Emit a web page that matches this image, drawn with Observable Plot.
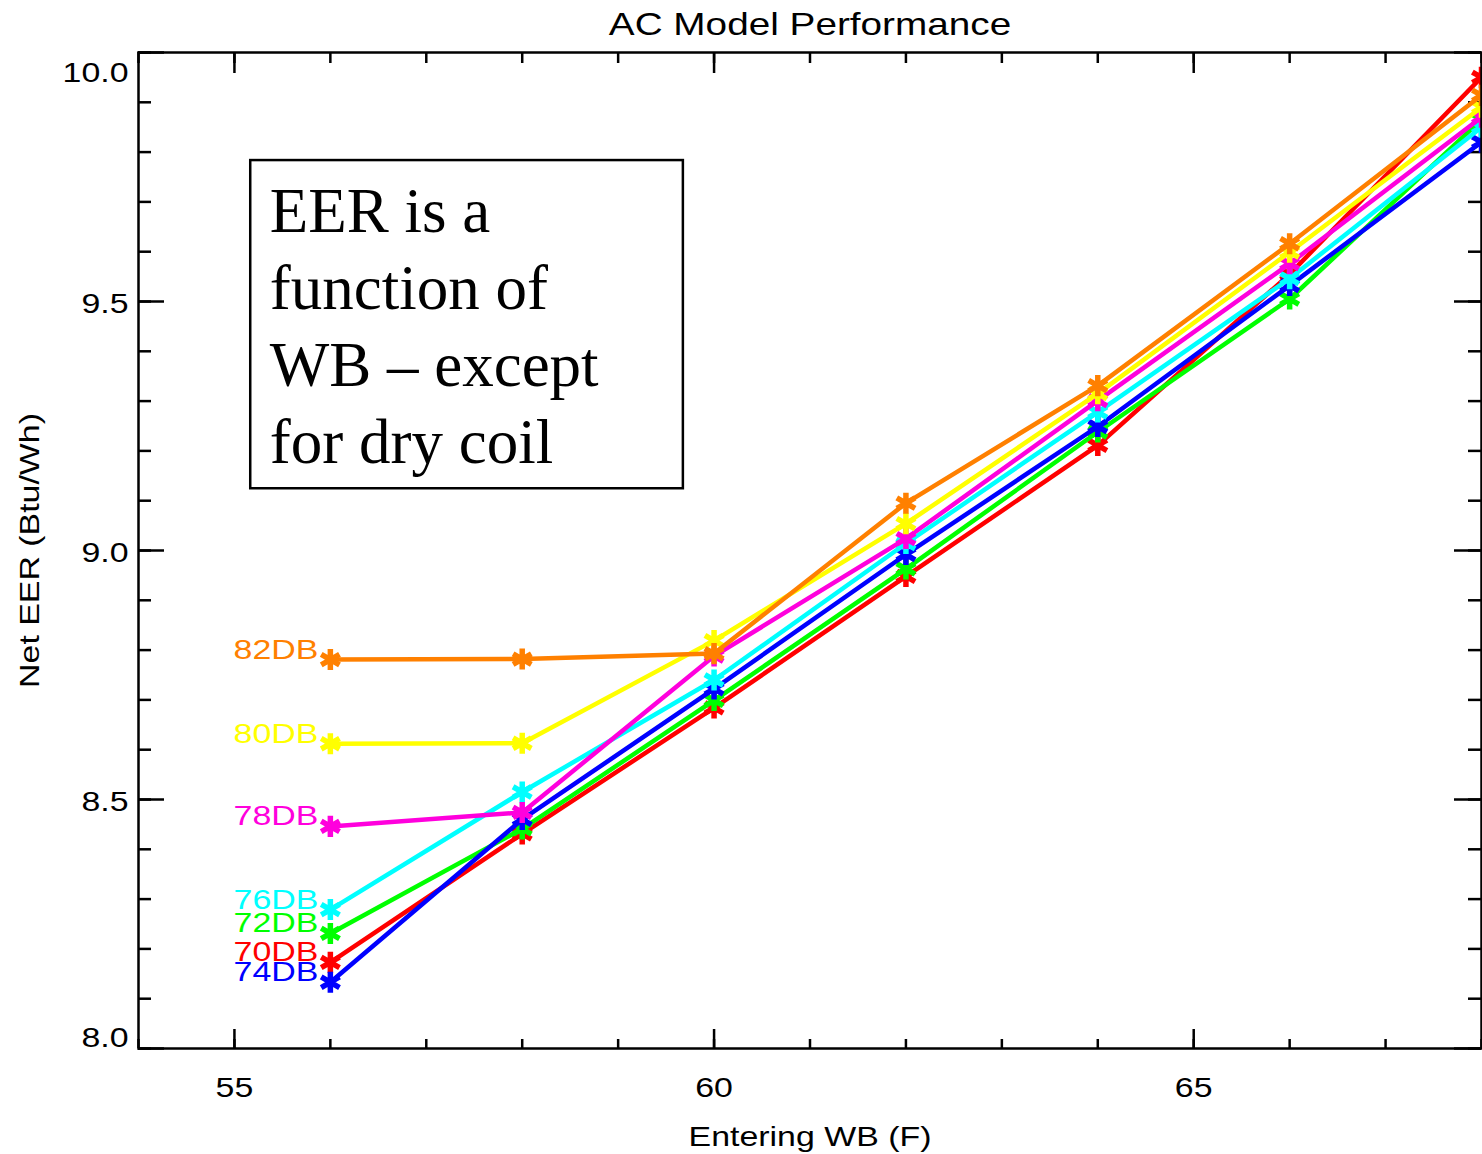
<!DOCTYPE html>
<html>
<head>
<meta charset="utf-8">
<script src="https://cdn.jsdelivr.net/npm/d3@7"></script>
<script src="https://cdn.jsdelivr.net/npm/@observablehq/plot@0.6"></script>
<style>
  html, body { margin: 0; padding: 0; background: white; }
</style>
</head>
<body>
<script>
// ---- data ----
const wb = [56, 58, 60, 62, 64, 66, 68];
const seriesNames = ["70DB", "72DB", "74DB", "76DB", "78DB", "80DB", "82DB"];
const colors = ["#ff0000", "#00ff00", "#0000ff", "#00ffff", "#ff00dd", "#ffff00", "#ff8000"];
const db70 = [8.173, 8.431, 8.684, 8.948, 9.211, 9.555, 9.950];
const db72 = [8.231, 8.441, 8.699, 8.963, 9.238, 9.505, 9.865];
const db74 = [8.133, 8.460, 8.722, 8.992, 9.249, 9.532, 9.820];
const db76 = [8.279, 8.515, 8.740, 9.014, 9.278, 9.546, 9.850];
const db78 = [8.446, 8.474, 8.788, 9.024, 9.301, 9.576, 9.870];
const db80 = [8.612, 8.613, 8.819, 9.054, 9.315, 9.599, 9.890];
const db82 = [8.781, 8.782, 8.793, 9.095, 9.331, 9.616, 9.914];
const seriesValues = [db70, db72, db74, db76, db78, db80, db82];

const xMajor = [55, 60, 65];
const xMinor = d3.range(54, 69);
const yMajor = [8.0, 8.5, 9.0, 9.5, 10.0];
const yMinor = d3.range(80, 101).map(d => d / 10);

const titleText = "AC Model Performance";
const xLabel = "Entering WB (F)";
const yLabel = "Net EER (Btu/Wh)";
const boxText = "EER is a\nfunction of\nWB \u2013 except\nfor dry coil";
const box = {x1: 55.17, x2: 59.68, y1: 9.783, y2: 9.124};

// ---- layout ----
const W = 1482, H = 1154;
const mL = 138, mR = 1, mT = 52, mB = 106;
const FW = W - mL - mR, FH = H - mT - mB;
const SANS = "Liberation Sans, Arial, Helvetica, sans-serif";

const rows = seriesNames.map((name, i) =>
  wb.map((x, j) => ({series: name, x, y: seriesValues[i][j]})));

const seriesMarks = [];
rows.forEach((data, i) => {
  seriesMarks.push(Plot.line(data, {x: "x", y: "y", stroke: colors[i], strokeWidth: 4.5}));
  seriesMarks.push(Plot.dot(data, {x: "x", y: "y", symbol: "asterisk", r: 10, stroke: colors[i], strokeWidth: 5.5}));
  seriesMarks.push(Plot.text([data[0]], {
    x: "x", y: "y", text: "series", fill: colors[i],
    textAnchor: "end", lineAnchor: "middle", dx: -12, dy: -10, fontSize: 28
  }));
});

const fmt = d3.format(".1f");

const chart = Plot.plot({
  width: W, height: H,
  marginLeft: mL, marginRight: mR, marginTop: mT, marginBottom: mB,
  x: {domain: [54, 68]},
  y: {domain: [8, 10]},
  style: {fontFamily: SANS, fontSize: "28px", background: "white", color: "black"},
  marks: [
    // text box
    Plot.rect([box], {x1: "x1", x2: "x2", y1: "y1", y2: "y2", fill: "white", stroke: "black", strokeWidth: 2.5}),
    Plot.text([box], {x: "x1", y: "y1", text: () => boxText, dx: 19, dy: 17,
      textAnchor: "start", lineAnchor: "top", lineHeight: 1.22,
      fontFamily: "Liberation Serif, Times New Roman, serif", fontSize: 63, fill: "black"}),
    // ticks: bottom
    Plot.tickX(xMinor, {x: d => d, insetTop: FH - 9, strokeWidth: 2.5}),
    Plot.tickX(xMajor, {x: d => d, insetTop: FH - 19, strokeWidth: 2.5}),
    // ticks: top
    Plot.tickX(xMinor, {x: d => d, insetBottom: FH - 11, strokeWidth: 2.5}),
    Plot.tickX(xMajor, {x: d => d, insetBottom: FH - 21, strokeWidth: 2.5}),
    // ticks: left
    Plot.tickY(yMinor, {y: d => d, insetRight: FW - 13, strokeWidth: 2.5}),
    Plot.tickY(yMajor, {y: d => d, insetRight: FW - 26, strokeWidth: 2.5}),
    // ticks: right
    Plot.tickY(yMinor, {y: d => d, insetLeft: FW - 13, strokeWidth: 2.5}),
    Plot.tickY(yMajor, {y: d => d, insetLeft: FW - 27, strokeWidth: 2.5}),
    // tick labels
    Plot.axisX(xMajor, {tickSize: 0, tickPadding: 29, label: null, fontSize: 28}),
    Plot.axisY([8.5, 9.0, 9.5], {tickSize: 0, tickPadding: 10, label: null, tickFormat: fmt, dy: 3, fontSize: 28}),
    Plot.axisY([10.0], {tickSize: 0, tickPadding: 10, label: null, tickFormat: fmt, dy: 21, fontSize: 28}),
    Plot.axisY([8.0], {tickSize: 0, tickPadding: 10, label: null, tickFormat: fmt, dy: -10, fontSize: 28}),
    // series
    ...seriesMarks,
    // frame
    Plot.frame({stroke: "black", strokeWidth: 2.5}),
    // titles
    Plot.text([titleText], {frameAnchor: "top", dy: -28, lineAnchor: "middle", fontSize: 32, fill: "black"}),
    Plot.text([xLabel], {frameAnchor: "bottom", dy: 89, lineAnchor: "middle", fontSize: 28, fill: "black"}),
    Plot.text([yLabel], {frameAnchor: "left", dx: -108, rotate: -90, textAnchor: "middle", lineAnchor: "middle", fontSize: 28, fill: "black"})
  ]
});

document.body.append(chart);

// Reference sans-serif lettering is horizontally wider than Arial metrics: stretch it.
const STRETCH = 1.21;
chart.querySelectorAll("text").forEach(t => {
  if (t.querySelector("tspan")) return;
  const ff = getComputedStyle(t).fontFamily || "";
  if (ff.includes("Serif")) return;
  const L = t.getComputedTextLength();
  if (L > 0) {
    t.setAttribute("textLength", (L * STRETCH).toFixed(1));
    t.setAttribute("lengthAdjust", "spacingAndGlyphs");
  }
});
</script>
</body>
</html>
